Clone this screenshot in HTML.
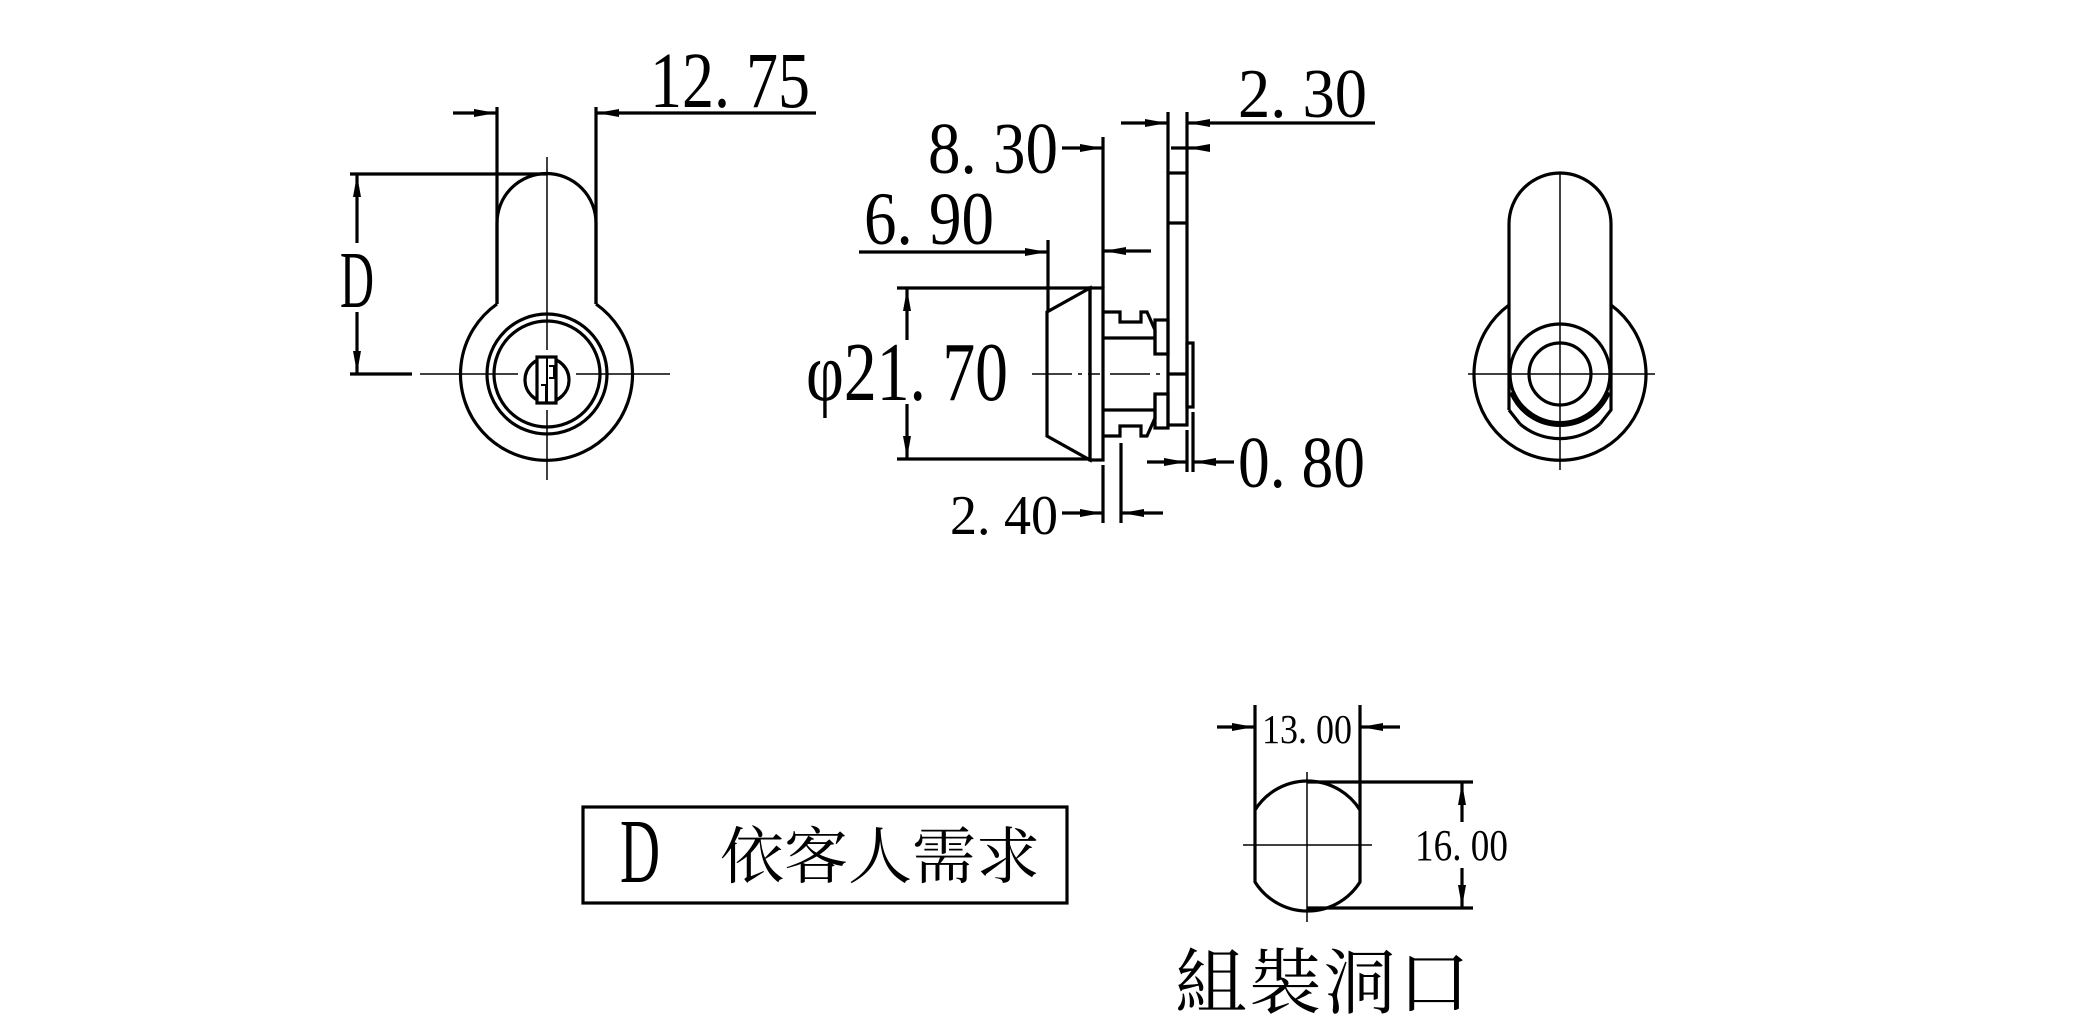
<!DOCTYPE html>
<html><head><meta charset="utf-8"><style>
html,body{margin:0;padding:0;background:#fff;}
svg{display:block}
text{font-family:"Liberation Serif",serif;fill:#000}
.cjk{font-family:"Liberation Serif","Noto Serif CJK SC","Noto Sans CJK TC",serif;}
</style></head><body>
<svg width="2092" height="1027" viewBox="0 0 2092 1027" xmlns="http://www.w3.org/2000/svg">
<defs>
<marker id="a" markerUnits="userSpaceOnUse" markerWidth="24" markerHeight="10" refX="22" refY="5" orient="auto"><path d="M0,1 L22,5 L0,9 z" fill="#000"/></marker>
</defs>
<rect width="2092" height="1027" fill="#fff"/>
<g fill="none" stroke="#000" stroke-width="3.2">
<!-- LEFT VIEW -->
<path d="M497,304 V223 A49.5,49.5 0 0 1 596,223 V304"/>
<path d="M596,304 A86,86 0 1 1 497,304"/>
<circle cx="547" cy="374" r="60"/>
<circle cx="547" cy="374" r="53"/>
<circle cx="547" cy="380" r="22"/>
<rect x="537" y="357" width="19" height="46" fill="#fff"/>
<path d="M547,357 V403 M549,366 h5 v12 h-5 M541,385 h5 v18" stroke-width="2"/>
<!-- D dimension -->
<line x1="350" y1="174" x2="547" y2="174"/>
<line x1="350" y1="374" x2="412" y2="374"/>
<line x1="357" y1="243" x2="357" y2="175" marker-end="url(#a)"/>
<line x1="357" y1="312" x2="357" y2="373" marker-end="url(#a)"/>
<!-- 12.75 -->
<line x1="497" y1="107" x2="497" y2="304"/>
<line x1="596" y1="107" x2="596" y2="304"/>
<line x1="453" y1="113" x2="496" y2="113" marker-end="url(#a)"/>
<line x1="816" y1="113" x2="597" y2="113" marker-end="url(#a)"/>

<!-- SIDE VIEW -->
<polygon points="1090,288 1047,312 1047,436 1090,460"/>
<rect x="1090" y="288" width="13" height="172"/>
<path d="M1103,312 H1120 V322 H1141 V312 H1147 L1155,330 V354"/>
<path d="M1103,436 H1120 V426 H1141 V436 H1147 L1155,418 V394"/>
<path d="M1103,338 H1155 M1103,410 H1155"/>
<rect x="1155" y="320" width="13" height="34"/>
<rect x="1155" y="394" width="13" height="34"/>
<rect x="1168" y="173" width="19" height="252"/>
<path d="M1168,223 H1187 M1168,374 H1187"/>
<rect x="1187" y="343" width="6" height="64"/>
<!-- dims -->
<line x1="897" y1="288" x2="1090" y2="288"/>
<line x1="897" y1="459" x2="1090" y2="459"/>
<line x1="907" y1="340" x2="907" y2="289" marker-end="url(#a)"/>
<line x1="907" y1="404" x2="907" y2="458" marker-end="url(#a)"/>
<line x1="1048" y1="240" x2="1048" y2="312"/>
<line x1="859" y1="252" x2="1047" y2="252" marker-end="url(#a)"/>
<line x1="1103" y1="137" x2="1103" y2="288"/>
<line x1="1062" y1="148" x2="1102" y2="148" marker-end="url(#a)"/>
<line x1="1151" y1="251" x2="1104" y2="251" marker-end="url(#a)"/>
<line x1="1168" y1="112" x2="1168" y2="173"/>
<line x1="1187" y1="112" x2="1187" y2="173"/>
<line x1="1121" y1="123" x2="1167" y2="123" marker-end="url(#a)"/>
<line x1="1375" y1="123" x2="1188" y2="123" marker-end="url(#a)"/>
<line x1="1209" y1="148" x2="1188" y2="148" marker-end="url(#a)"/>
<line x1="1171" y1="148" x2="1188" y2="148"/>
<line x1="1187" y1="430" x2="1187" y2="472"/>
<line x1="1193" y1="412" x2="1193" y2="472"/>
<line x1="1147" y1="462" x2="1186" y2="462" marker-end="url(#a)"/>
<line x1="1234" y1="462" x2="1194" y2="462" marker-end="url(#a)"/>
<line x1="1103" y1="465" x2="1103" y2="523"/>
<line x1="1121" y1="443" x2="1121" y2="523"/>
<line x1="1062" y1="513" x2="1102" y2="513" marker-end="url(#a)"/>
<line x1="1163" y1="513" x2="1122" y2="513" marker-end="url(#a)"/>

<!-- RIGHT VIEW -->
<path d="M1509,410 V224 A51,51 0 0 1 1611,224 V410 L1600,424 M1509,410 L1520,424"/>
<path d="M1611,305 A86,86 0 1 1 1509,305"/>
<circle cx="1560" cy="374" r="50"/>
<circle cx="1560" cy="374" r="31"/>
<path d="M1512,392 A52,52 0 0 0 1608,392" stroke-width="6"/>
<path d="M1520,424 A62,62 0 0 0 1600,424"/>

<!-- BOTTOM -->
<rect x="583" y="807" width="484" height="96"/>
<path d="M1255,810 A62,62 0 0 1 1360,810 V882 A62,62 0 0 1 1255,882 Z"/>
<line x1="1307" y1="782" x2="1473" y2="782"/>
<line x1="1307" y1="908" x2="1473" y2="908"/>
<line x1="1462" y1="822" x2="1462" y2="783" marker-end="url(#a)"/>
<line x1="1462" y1="868" x2="1462" y2="907" marker-end="url(#a)"/>
<line x1="1255" y1="705" x2="1255" y2="810"/>
<line x1="1360" y1="705" x2="1360" y2="810"/>
<line x1="1217" y1="727" x2="1254" y2="727" marker-end="url(#a)"/>
<line x1="1400" y1="727" x2="1361" y2="727" marker-end="url(#a)"/>
</g>
<!-- center lines -->
<g fill="none" stroke="#000" stroke-width="1.5">
<path d="M547,157 V350 M547,410 V480 M420,374 H518 M576,374 H670"/>
<path d="M1032,374 H1100 M1110,374 H1165" stroke-dasharray="40,6,4,6"/>
<path d="M1560,173 V470 M1468,374 H1655"/>
<path d="M1307,772 V922 M1243,845 H1372"/>
</g>
<!-- TEXT -->
<text x="650" y="107" font-size="79" textLength="160" lengthAdjust="spacingAndGlyphs">12. 75</text>
<text x="340" y="307" font-size="80" textLength="34" lengthAdjust="spacingAndGlyphs">D</text>
<text x="1238" y="117" font-size="70" textLength="129" lengthAdjust="spacingAndGlyphs">2. 30</text>
<text x="928" y="173" font-size="73" textLength="130" lengthAdjust="spacingAndGlyphs">8. 30</text>
<text x="864" y="244" font-size="75" textLength="130" lengthAdjust="spacingAndGlyphs">6. 90</text>
<text x="806" y="400" font-size="84" textLength="202" lengthAdjust="spacingAndGlyphs">φ21. 70</text>
<text x="1238" y="487" font-size="73" textLength="127" lengthAdjust="spacingAndGlyphs">0. 80</text>
<text x="950" y="534" font-size="56" textLength="108" lengthAdjust="spacingAndGlyphs">2. 40</text>
<text x="1262" y="743" font-size="41" textLength="90" lengthAdjust="spacingAndGlyphs">13. 00</text>
<text x="1415" y="860" font-size="44" textLength="93" lengthAdjust="spacingAndGlyphs">16. 00</text>
<text x="620" y="882" font-size="91" textLength="40" lengthAdjust="spacingAndGlyphs">D</text>
<text class="cjk" x="720" y="878" font-size="62" textLength="320" lengthAdjust="spacingAndGlyphs">依客人需求</text>
<text class="cjk" x="1175" y="1008" font-size="72" textLength="295" lengthAdjust="spacing">組裝洞口</text>
</svg>
</body></html>
